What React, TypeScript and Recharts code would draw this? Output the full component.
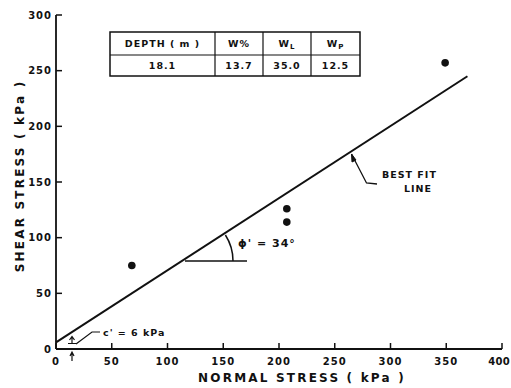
import { ComposedChart, Scatter, XAxis, YAxis, ReferenceLine } from "recharts"

// values
const normalStress = [68, 207, 207, 349]
const shearStress = [75, 126, 114, 257]
const fitNormal = [0, 369]
const fitShear = [6, 245]
const xTicks = [0, 50, 100, 150, 200, 250, 300, 350, 400]
const yTicks = [0, 50, 100, 150, 200, 250, 300]
const tableHeader = ["DEPTH ( m )", "W%", "W|L", "W|P"]
const tableValues = ["18.1", "13.7", "35.0", "12.5"]

const points = normalStress.map((x, i) => ({ x, y: shearStress[i] }))
const fitLine = fitNormal.map((x, i) => ({ x, y: fitShear[i] }))

const FONT = "'DejaVu Sans', Verdana, sans-serif"
const INK = "#111"

const YTick = (props: any) => {
  const { x, y, payload } = props
  return (
    <g>
      <line x1={x} x2={x + 6} y1={y} y2={y} stroke={INK} strokeWidth={1.5} />
      <text x={x - 4} y={y} dy="0.36em" textAnchor="end" fontFamily={FONT} fontWeight="bold" fontSize={10} letterSpacing={1} fill={INK}>
        {payload.value}
      </text>
    </g>
  )
}

const XTick = (props: any) => {
  const { x, y, payload, index } = props
  const last = index === xTicks.length - 1
  return (
    <g>
      <line x1={x} x2={x} y1={y} y2={y - 6} stroke={INK} strokeWidth={1.5} />
      <text
        x={last ? x + 8 : x}
        y={y + 12}
        dy="0.36em"
        textAnchor={last ? "end" : "middle"}
        fontFamily={FONT}
        fontWeight="bold"
        fontSize={10}
        letterSpacing={last ? 0.3 : 1}
        fill={INK}
      >
        {payload.value}
      </text>
    </g>
  )
}

const Dot = (props: any) => <circle cx={props.cx} cy={props.cy} r={3.8} fill={INK} />

const cellText = (label: string) => {
  if (label.includes("|")) {
    const [main, sub] = label.split("|")
    return (
      <>
        <tspan>{main}</tspan>
        <tspan fontSize={7} dy={2}>{sub}</tspan>
      </>
    )
  }
  return label
}

function Overlay() {
  const cols = [110, 215, 263, 311, 360]
  const txt = { fontFamily: FONT, fontWeight: "bold" as const, fill: INK, letterSpacing: 1 }
  return (
    <svg width={511} height={388} style={{ position: "absolute", left: 0, top: 0, pointerEvents: "none" }}>
      {/* property table */}
      <rect x={110} y={32} width={250} height={44} fill="none" stroke={INK} strokeWidth={1.5} />
      <line x1={110} x2={360} y1={55} y2={55} stroke={INK} strokeWidth={1.2} />
      {cols.slice(1, 4).map((c) => (
        <line key={c} x1={c} x2={c} y1={32} y2={76} stroke={INK} strokeWidth={1.2} />
      ))}
      {tableHeader.map((h, i) => (
        <text key={h} x={(cols[i] + cols[i + 1]) / 2} y={44} dy="0.36em" textAnchor="middle" fontSize={9.5} {...txt}>
          {cellText(h)}
        </text>
      ))}
      {tableValues.map((v, i) => (
        <text key={v} x={(cols[i] + cols[i + 1]) / 2} y={66} dy="0.36em" textAnchor="middle" fontSize={9.5} {...txt}>
          {v}
        </text>
      ))}

      {/* best fit label */}
      <path d="M351.5,154 L366.5,183 L377,184" fill="none" stroke={INK} strokeWidth={1.3} />
      <path d="M351.5,154 L352,162 L356,160 Z" fill={INK} stroke={INK} strokeWidth={1} />
      <text x={382} y={175} dy="0.36em" fontSize={9.5} {...txt}>BEST FIT</text>
      <text x={404} y={189} dy="0.36em" fontSize={9.5} {...txt}>LINE</text>

      {/* friction angle */}
      <line x1={185} x2={247} y1={261} y2={261} stroke={INK} strokeWidth={1.5} />
      <path d="M225.4,235 A48,48 0 0 1 233,261" fill="none" stroke={INK} strokeWidth={1.5} />
      <text x={238} y={243} dy="0.36em" fontSize={11} {...txt}>ϕ' = 34°</text>

      {/* cohesion intercept */}
      <path d="M76,344 L92,332 L100,332" fill="none" stroke={INK} strokeWidth={1.2} />
      <text x={103} y={333} dy="0.36em" fontSize={9.5} {...txt}>c' = 6 kPa</text>
      <path d="M72,343 L72,337 M69.5,340 L72,336.5 L74.5,340 M68,343.5 L76,343.5" fill="none" stroke={INK} strokeWidth={1.2} />
      <path d="M72,361 L72,352 M70,356 L72,352 L74,356" fill="none" stroke={INK} strokeWidth={1.2} />

      {/* axis titles */}
      <text x={302} y={378} dy="0.36em" textAnchor="middle" fontSize={12} {...txt} letterSpacing={2.2}>
        NORMAL STRESS ( kPa )
      </text>
      <text transform="translate(20,176) rotate(-90)" x={0} y={0} dy="0.36em" textAnchor="middle" fontSize={12} {...txt} letterSpacing={2.2}>
        SHEAR STRESS ( kPa )
      </text>
    </svg>
  )
}

export default function App() {
  return (
    <div style={{ position: "absolute", left: 0, top: 0, width: 511, height: 388, background: "#fff" }}>
      <ComposedChart width={511} height={388} margin={{ top: 15, right: 9, bottom: 0, left: 0 }}>
        <XAxis
          dataKey="x"
          type="number"
          domain={[0, 400]}
          ticks={xTicks}
          height={39}
          tickSize={0}
          tickMargin={0}
          tickLine={false}
          axisLine={{ stroke: INK, strokeWidth: 1.8 }}
          tick={<XTick />}
          interval={0}
        />
        <YAxis
          dataKey="y"
          type="number"
          domain={[0, 300]}
          ticks={yTicks}
          width={56}
          tickSize={0}
          tickMargin={0}
          tickLine={false}
          axisLine={{ stroke: INK, strokeWidth: 1.8 }}
          tick={<YTick />}
          interval={0}
        />
        <ReferenceLine segment={fitLine} stroke={INK} strokeWidth={2} ifOverflow="visible" />
        <Scatter data={points} dataKey="y" fill={INK} shape={<Dot />} isAnimationActive={false} />
      </ComposedChart>
      <Overlay />
    </div>
  )
}
